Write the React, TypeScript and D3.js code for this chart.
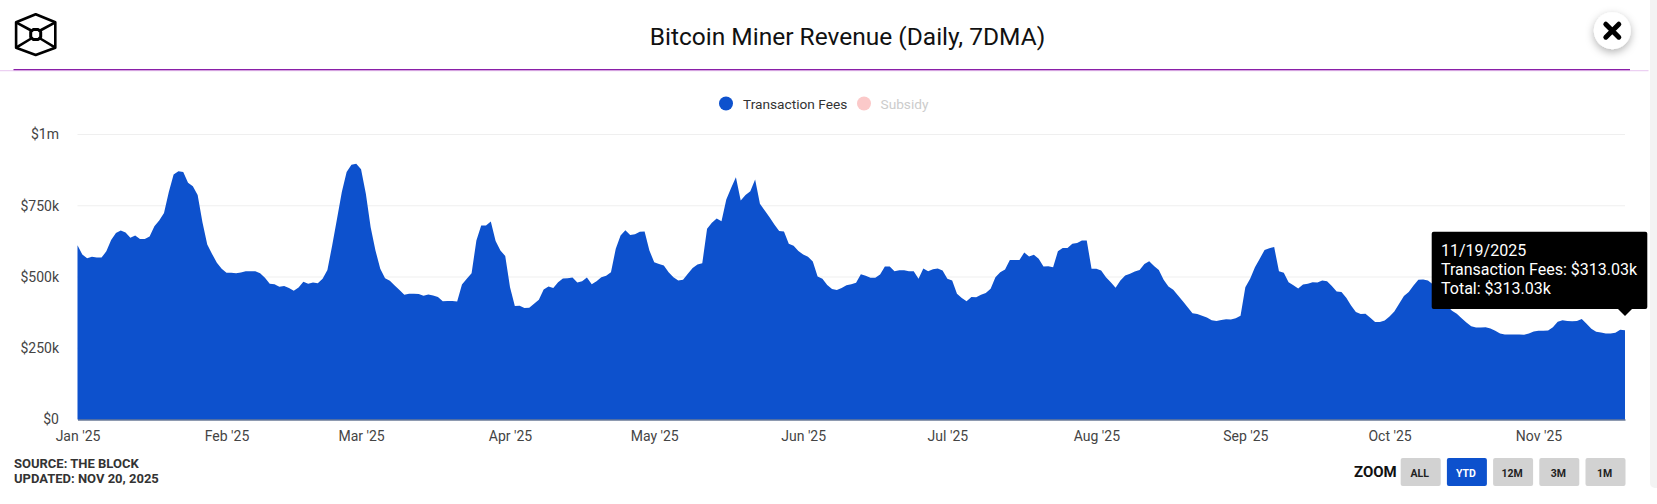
import React, { useEffect, useRef } from 'react';
import * as d3 from 'd3';

const WIDTH = 1657;
const HEIGHT = 504;

// first day of the series, one value per day after that
const startDate = new Date(Date.UTC(2025, 0, 1));

// Transaction fees, 7DMA, in $k
const feeValues = [
  611, 579, 566, 571, 568, 568, 590, 630, 654, 663,
  656, 638, 646, 633, 633, 642, 678, 698, 725, 798,
  860, 871, 868, 831, 818, 788, 692, 614, 581, 550,
  529, 515, 515, 513, 516, 520, 520, 520, 513, 497,
  476, 475, 466, 468, 461, 452, 463, 483, 476, 481,
  478, 494, 525, 611, 704, 798, 868, 894, 897, 878,
  792, 675, 593, 529, 496, 487, 470, 454, 438, 441,
  441, 440, 434, 439, 435, 430, 415, 416, 416, 414,
  474, 494, 513, 628, 681, 681, 695, 626, 593, 574,
  464, 398, 399, 391, 392, 406, 420, 456, 467, 461,
  482, 495, 496, 498, 481, 485, 498, 475, 485, 499,
  504, 517, 599, 646, 664, 647, 650, 659, 660, 593,
  552, 546, 540, 517, 499, 488, 490, 511, 532, 544,
  548, 669, 690, 705, 696, 772, 812, 850, 768, 788,
  801, 842, 757, 733, 710, 684, 661, 660, 617, 610,
  591, 579, 571, 554, 502, 494, 472, 458, 454, 461,
  471, 475, 480, 510, 504, 497, 497, 509, 537, 537,
  520, 524, 524, 520, 520, 494, 530, 520, 527, 530,
  523, 494, 488, 441, 426, 415, 430, 429, 438, 444,
  459, 499, 517, 526, 560, 560, 560, 586, 572, 578,
  564, 537, 538, 534, 590, 602, 602, 617, 619, 628,
  628, 529, 529, 523, 499, 482, 462, 488, 505, 511,
  519, 525, 546, 555, 539, 525, 490, 467, 455, 435,
  415, 394, 373, 370, 364, 358, 348, 346, 349, 352,
  351, 355, 364, 464, 494, 534, 564, 595, 601, 605,
  520, 515, 482, 471, 460, 474, 476, 482, 481, 488,
  485, 468, 449, 447, 427, 400, 377, 370, 371, 357,
  342, 342, 347, 361, 379, 406, 433, 447, 470, 490,
  491, 488, 475, 455, 430, 398, 382, 371, 355, 340,
  327, 323, 323, 324, 319, 311, 302, 298, 298, 298,
  298, 297, 302, 309, 311, 311, 312, 324, 343, 348,
  346, 345, 346, 353, 336, 318, 308, 305, 302, 302,
  304, 315, 313,
];

const yTickValues = [0, 250, 500, 750, 1000];
const yTickLabels = ['$0', '$250k', '$500k', '$750k', '$1m'];
const zoomButtons = ['ALL', 'YTD', '12M', '3M', '1M'];
const activeZoom = 'YTD';
const tooltipLines = ['11/19/2025', 'Transaction Fees: $313.03k', 'Total: $313.03k'];
const sourceLines = ['SOURCE: THE BLOCK', 'UPDATED: NOV 20, 2025'];

const FONT = 'Roboto, sans-serif';
const BLUE = '#0d51cd';

const App: React.FC = () => {
  const svgRef = useRef<SVGSVGElement | null>(null);

  useEffect(() => {
    const svg = d3.select(svgRef.current);
    svg.selectAll('*').remove();
    svg.style('font-family', FONT);

    const margin = { top: 134.5, right: 32, bottom: 84.5, left: 77.5 };

    const series = feeValues.map((v, i) => ({ date: d3.utcDay.offset(startDate, i), value: v }));

    const x = d3
      .scaleUtc()
      .domain(d3.extent(series, d => d.date) as [Date, Date])
      .range([margin.left, WIDTH - margin.right]);

    const y = d3
      .scaleLinear()
      .domain([0, 1000])
      .range([HEIGHT - margin.bottom, margin.top]);

    // scrollbar track on the right edge
    svg.append('path')
      .attr('d', `M${WIDTH},0H1650V483a5,5 0 0 0 5,5H${WIDTH}Z`)
      .attr('fill', '#f3f3f3');

    // header
    svg.append('text')
      .attr('x', 847.5)
      .attr('y', 45)
      .attr('text-anchor', 'middle')
      .attr('font-size', 24.5)
      .attr('fill', '#111')
      .text('Bitcoin Miner Revenue (Daily, 7DMA)');

    svg.append('line')
      .attr('x1', 0).attr('x2', 1648.5).attr('y1', 70.6).attr('y2', 70.6)
      .attr('stroke', '#ecd0f2').attr('stroke-width', 1.2);
    svg.append('line')
      .attr('x1', 13.5).attr('x2', 1630).attr('y1', 69.6).attr('y2', 69.6)
      .attr('stroke', '#8a1fa8').attr('stroke-width', 1.4);

    // logo
    const logo = svg.append('g')
      .attr('transform', 'translate(35.7,34.5)')
      .attr('fill', 'none')
      .attr('stroke', '#000')
      .attr('stroke-width', 2.6)
      .attr('stroke-linejoin', 'round');
    logo.append('path').attr('d', 'M0,-20.3L19.6,-12.2V13.2L0,20.5L-19.6,13.2V-12.2Z');
    logo.append('path')
      .attr('stroke-width', 3)
      .attr('d', 'M-2.5,-5H2.5L5,-2.5V2.5L2.5,5H-2.5L-5,2.5V-2.5Z');
    logo.append('path').attr('d', 'M-19.6,-12.2L-4.5,-4M19.6,-12.2L4.5,-4M-19.6,13.2L-4.5,4M19.6,13.2L4.5,4');

    // close button
    const defs = svg.append('defs');
    const shadow = defs.append('filter')
      .attr('id', 'btn-shadow')
      .attr('x', '-50%').attr('y', '-50%').attr('width', '200%').attr('height', '200%');
    shadow.append('feDropShadow')
      .attr('dx', 0).attr('dy', 3).attr('stdDeviation', 4)
      .attr('flood-color', '#000').attr('flood-opacity', 0.3);
    svg.append('circle')
      .attr('cx', 1612.3).attr('cy', 30.7).attr('r', 18.5)
      .attr('fill', '#fff')
      .attr('filter', 'url(#btn-shadow)');
    svg.append('path')
      .attr('d', 'M1605.8,24.2L1618.8,37.2M1618.8,24.2L1605.8,37.2')
      .attr('stroke', '#000').attr('stroke-width', 5).attr('stroke-linecap', 'round');

    // legend
    const legendItems = [
      { name: 'Transaction Fees', dot: BLUE, color: '#333', cx: 726, tx: 743 },
      { name: 'Subsidy', dot: '#fbc9c9', color: '#cccccc', cx: 864, tx: 880.5 },
    ];
    legendItems.forEach(d => {
      svg.append('circle').attr('cx', d.cx).attr('cy', 103.5).attr('r', 7).attr('fill', d.dot);
      svg.append('text')
        .attr('x', d.tx).attr('y', 109)
        .attr('font-size', 13.7)
        .attr('fill', d.color)
        .text(d.name);
    });

    // grid + y axis
    const yAxis = svg.append('g')
      .attr('transform', `translate(${margin.left},0)`)
      .call(
        d3.axisLeft(y)
          .tickValues(yTickValues)
          .tickSize(0)
          .tickPadding(18.5)
          .tickFormat((_, i) => yTickLabels[i])
      );
    yAxis.select('.domain').remove();
    yAxis.selectAll('text')
      .attr('font-family', FONT)
      .attr('font-size', 14)
      .attr('fill', '#444');

    svg.append('g')
      .selectAll('line')
      .data(yTickValues.filter(v => v > 0))
      .join('line')
      .attr('x1', margin.left)
      .attr('x2', WIDTH - margin.right)
      .attr('y1', d => y(d))
      .attr('y2', d => y(d))
      .attr('stroke', '#efefef')
      .attr('stroke-width', 1.2);

    // area
    const area = d3.area<{ date: Date; value: number }>()
      .x(d => x(d.date))
      .y0(y(0))
      .y1(d => y(d.value));

    svg.append('path')
      .datum(series)
      .attr('d', area)
      .attr('fill', BLUE);

    // x axis
    const xAxis = svg.append('g')
      .attr('transform', `translate(0,${y(0)})`)
      .call(
        d3.axisBottom(x)
          .ticks(d3.utcMonth.every(1))
          .tickSize(0)
          .tickPadding(12)
          .tickFormat(d => d3.utcFormat("%b '%y")(d as Date))
      );
    xAxis.select('.domain')
      .attr('stroke', '#1f3763')
      .attr('stroke-width', 1.2);
    xAxis.selectAll('text')
      .attr('font-family', FONT)
      .attr('font-size', 14)
      .attr('fill', '#444');

    // tooltip
    const last = series[series.length - 1];
    const tipX = x(last.date);
    const tipBottom = 309;
    svg.append('rect')
      .attr('x', 1431.7).attr('y', 231.7)
      .attr('width', 215.6).attr('height', tipBottom - 231.7)
      .attr('rx', 2)
      .attr('fill', '#000');
    svg.append('path')
      .attr('d', `M${tipX - 7},${tipBottom}L${tipX},${tipBottom + 7}L${tipX + 7},${tipBottom}Z`)
      .attr('fill', '#000');
    svg.append('g')
      .selectAll('text')
      .data(tooltipLines)
      .join('text')
      .attr('x', 1441)
      .attr('y', (_, i) => 256 + i * 19)
      .attr('font-size', 16)
      .attr('fill', '#fff')
      .text(d => d);

    // source note
    svg.append('g')
      .selectAll('text')
      .data(sourceLines)
      .join('text')
      .attr('x', 14)
      .attr('y', (_, i) => 467.5 + i * 15.3)
      .attr('font-size', 13)
      .attr('font-weight', 700)
      .attr('fill', '#333')
      .text(d => d);

    // zoom buttons
    svg.append('text')
      .attr('x', 1354).attr('y', 477)
      .attr('font-size', 15)
      .attr('font-weight', 700)
      .attr('fill', '#111')
      .text('ZOOM');

    const btn = svg.append('g')
      .selectAll('g')
      .data(zoomButtons)
      .join('g')
      .attr('transform', (_, i) => `translate(${1400.7 + i * 46.2},458)`);
    btn.append('rect')
      .attr('width', 40).attr('height', 28).attr('rx', 2)
      .attr('fill', d => (d === activeZoom ? BLUE : '#d2d2d2'));
    btn.append('text')
      .attr('x', 19).attr('y', 18.5)
      .attr('text-anchor', 'middle')
      .attr('font-size', 10.5)
      .attr('font-weight', 700)
      .attr('fill', d => (d === activeZoom ? '#fff' : '#222'))
      .text(d => d);
  }, []);

  return (
    <svg
      ref={svgRef}
      width={WIDTH}
      height={HEIGHT}
      style={{ position: 'absolute', left: 0, top: 0, background: '#fff' }}
    />
  );
};

export default App;
